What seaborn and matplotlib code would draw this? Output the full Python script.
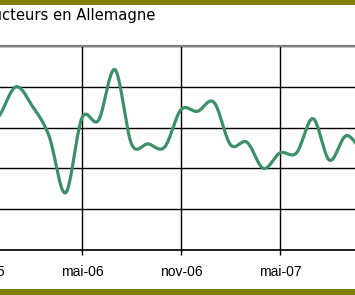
import numpy as np
import pandas as pd
import matplotlib
matplotlib.use("Agg")
import matplotlib.pyplot as plt
from matplotlib.patches import Rectangle
import seaborn as sns

# ---- data (monthly, starting nov-05) ----
months = ["nov-05", "déc-05", "jan-06", "fév-06", "mar-06", "avr-06", "mai-06", "jun-06",
          "jul-06", "aoû-06", "sep-06", "oct-06", "nov-06", "déc-06", "jan-07", "fév-07",
          "mar-07", "avr-07", "mai-07", "jun-07", "jul-07", "aoû-07", "sep-07", "oct-07"]
values = [99.1, 101.5, 105.0, 102.6, 99.0, 92.0, 101.2, 100.9, 107.1, 98.0, 98.0, 97.6,
          102.2, 102.0, 103.1, 97.9, 98.2, 95.0, 96.9, 96.9, 101.1, 96.0, 99.0, 97.3]
tick_labels = ["nov-05", "mai-06", "nov-06", "mai-07", "nov-07"]
tick_pos = [0, 6, 12, 18, 24]
title = "Confiance des producteurs en Allemagne"


def smooth(x, y, n=20):
    """Catmull-Rom style smoothing (rendering like a spreadsheet 'smoothed line')."""
    x = np.asarray(x, float)
    y = np.asarray(y, float)
    xs, ys = [], []
    for i in range(len(x) - 1):
        p0 = y[i - 1] if i > 0 else y[i]
        p1, p2 = y[i], y[i + 1]
        p3 = y[i + 2] if i + 2 < len(y) else y[i + 1]
        t = np.linspace(0, 1, n, endpoint=False)
        yy = 0.5 * ((2 * p1) + (-p0 + p2) * t + (2 * p0 - 5 * p1 + 4 * p2 - p3) * t ** 2
                    + (-p0 + 3 * p1 - 3 * p2 + p3) * t ** 3)
        xs.extend(x[i] + t * (x[i + 1] - x[i]))
        ys.extend(yy)
    xs.append(x[-1])
    ys.append(y[-1])
    return np.array(xs), np.array(ys)


idx = np.arange(len(values))
sx, sy = smooth(idx, values)
df = pd.DataFrame({"m": sx, "v": sy})

sns.set_theme(style="white")
plt.rcParams["font.family"] = ["Liberation Sans", "DejaVu Sans"]

W, H = 355, 295
fig = plt.figure(figsize=(W / 100, H / 100), dpi=100)
fig.patch.set_facecolor("white")

# axes spanning beyond the figure (the reference is a crop)
px_per_month = 16.5
x0_px = -17.0  # pixel position of month 0
left_px, right_px = -60, 420
top_px, bot_px = 46, 250
ax = fig.add_axes([left_px / W, 1 - bot_px / H, (right_px - left_px) / W, (bot_px - top_px) / H])
ax.set_xlim((left_px - x0_px) / px_per_month, (right_px - x0_px) / px_per_month)
ax.set_ylim(85, 110)

sns.lineplot(data=df, x="m", y="v", ax=ax, color="#3d8f6a", linewidth=2.3, legend=False)

ax.set_xticks(tick_pos)
ax.set_xticklabels(tick_labels, fontsize=10, color="black")
ax.set_yticks([85, 90, 95, 100, 105, 110])
ax.set_yticklabels([])
ax.tick_params(axis="x", direction="out", length=3.5, width=1, color="black", pad=7, bottom=True)
ax.tick_params(axis="y", length=0)
ax.grid(True, color="black", linewidth=1)
ax.set_axisbelow(True)
ax.set_xlabel("")
ax.set_ylabel("")
for s in ["left", "right"]:
    ax.spines[s].set_visible(False)
ax.spines["bottom"].set_color("black")
ax.spines["bottom"].set_linewidth(1.2)
ax.spines["top"].set_color("#808080")
ax.spines["top"].set_linewidth(1.6)

# title (cropped at left in the reference)
fig.text(155 / W, 1 - 20 / H, title, ha="right", va="baseline", fontsize=10.6,
         family=["DejaVu Sans"], color="black")

# olive bands
fig.patches.append(Rectangle((0, 1 - 5 / H), 1, 5 / H, transform=fig.transFigure,
                             facecolor="#808000", edgecolor="none", zorder=10))
fig.patches.append(Rectangle((0, 0), 1, 6 / H, transform=fig.transFigure,
                             facecolor="#808000", edgecolor="none", zorder=10))

fig.savefig("out.png", dpi=100)
